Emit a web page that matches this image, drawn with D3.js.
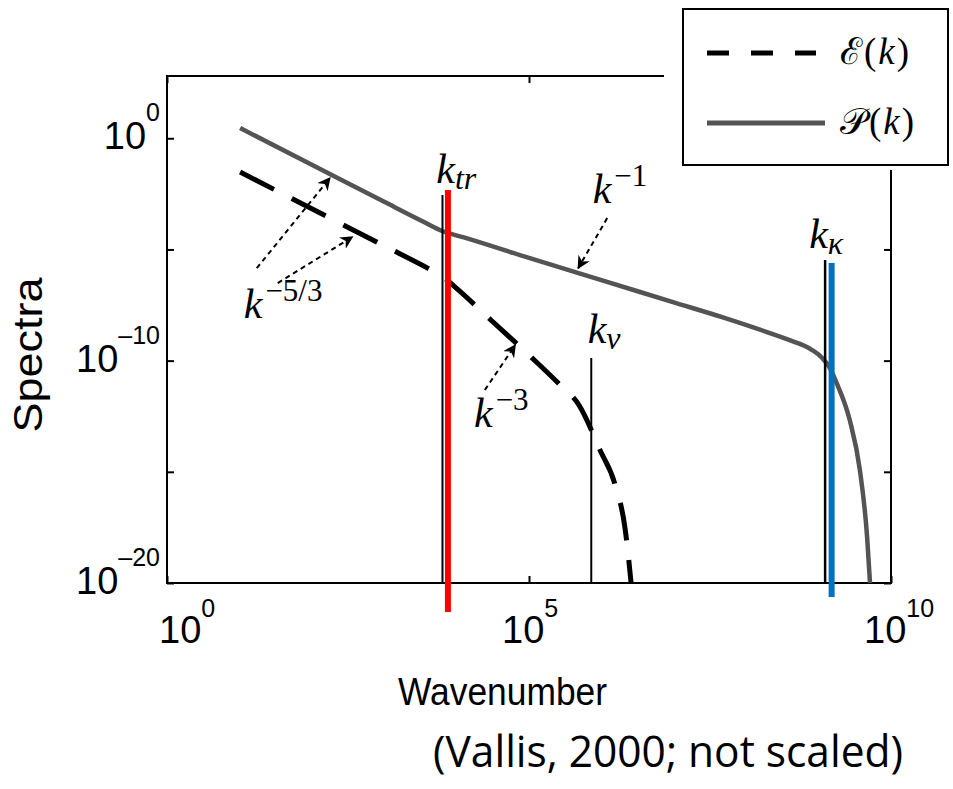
<!DOCTYPE html>
<html>
<head>
<meta charset="utf-8">
<script src="https://cdn.jsdelivr.net/npm/d3@7"></script>
<style>
  body { margin: 0; background: #fff; }
  svg { display: block; }
</style>
</head>
<body>
<svg id="chart"></svg>
<script>
// spectra, stored as log10 values
var pLogK = [1.01, 2.0, 3.0, 3.55, 3.80, 4.1, 5.0, 6.0, 7.0, 7.7, 8.2, 8.6, 8.9, 9.05, 9.15, 9.25, 9.43, 9.57, 9.67, 9.71];
var pLogS = [0.46, -1.19, -2.86, -3.77, -4.17, -4.46, -5.38, -6.38, -7.38, -8.08, -8.62, -9.08, -9.5, -9.88, -10.3, -11.01, -12.67, -14.92, -17.93, -20.0];
var eLogK = [1.01, 2.0, 3.0, 3.6, 3.8, 4.0, 4.5, 5.0, 5.4, 5.70, 5.98, 6.19, 6.33, 6.41];
var eLogS = [-1.52, -3.17, -4.84, -5.84, -6.2, -6.75, -8.25, -9.75, -11.0, -12.05, -14.02, -15.59, -17.62, -20.0];

// marker lines: log10 k, top and bottom (log10 spectra)
var markerNames = ["ktr", "ktrRed", "knu", "kkappa", "kkappaBlue"];
var markerLogK = [3.805, 3.88, 5.86, 9.09, 9.18];
var markerTop = [-2.55, -2.33, -9.88, -5.48, -5.61];
var markerBottom = [-20, -21.3, -20, -20, -20.63];
var markerColor = ["#000", "#ff0000", "#000", "#000", "#0070c0"];
var markerWidth = [2, 6, 2, 2.5, 6];

// text labels (base, script, script is sub or sup) at log10 positions
var labelBase = ["k", "k", "k", "k", "k", "k"];
var labelScript = ["tr", "\u22121", "\u03bd", "\u22123", "\u22125/3", "\u03ba"];
var labelSup = [false, true, false, true, true, false];
var labelLogK = [3.72, 5.88, 5.81, 4.24, 1.06, 8.87];
var labelLogS = [-2.01, -2.91, -9.21, -12.99, -8.08, -4.94];

// dotted arrows: start and end in log10 units
var arrowFromK = [6.08, 4.39, 1.24, 1.53];
var arrowFromS = [-3.59, -11.32, -5.84, -6.51];
var arrowToK = [5.68, 4.81, 2.25, 2.56];
var arrowToS = [-5.84, -9.30, -1.79, -4.44];

var xTicks = [0, 5, 10];
var yTicks = [0, -5, -10, -15, -20];
var yTickLabels = [0, -10, -20];

var width = 953, height = 789;
var svg = d3.select("#chart").attr("width", width).attr("height", height);

var x = d3.scaleLog().domain([1, 1e10]).range([167, 891]);
var y = d3.scaleLog().domain([1e-20, Math.pow(10, 2.8)]).range([583, 76]);
var px = function(lk) { return x(Math.pow(10, lk)); };
var py = function(ls) { return y(Math.pow(10, ls)); };

var x0 = x.range()[0], x1 = x.range()[1], yb = y.range()[0], yt = y.range()[1];

// axes, ticks pointing inward
var tickLen = 7;
svg.append("g").attr("transform", "translate(0," + yb + ")")
  .call(d3.axisBottom(x).tickValues(xTicks.map(function(d){ return Math.pow(10, d); })).tickSize(-tickLen).tickFormat(""));
svg.append("g").attr("transform", "translate(0," + yt + ")")
  .call(d3.axisTop(x).tickValues(xTicks.map(function(d){ return Math.pow(10, d); })).tickSize(-tickLen).tickFormat(""));
svg.append("g").attr("transform", "translate(" + x0 + ",0)")
  .call(d3.axisLeft(y).tickValues(yTicks.map(function(d){ return Math.pow(10, d); })).tickSize(-tickLen).tickFormat(""));
svg.append("g").attr("transform", "translate(" + x1 + ",0)")
  .call(d3.axisRight(y).tickValues(yTicks.map(function(d){ return Math.pow(10, d); })).tickSize(-tickLen).tickFormat(""));
svg.selectAll(".domain").remove();
svg.selectAll(".tick line").attr("stroke", "#000").attr("stroke-width", 2);
svg.append("rect").attr("x", x0).attr("y", yt).attr("width", x1 - x0).attr("height", yb - yt)
  .attr("fill", "none").attr("stroke", "#000").attr("stroke-width", 2);

// tick labels 10^n
var sans = "'Liberation Sans', Arial, Helvetica, sans-serif";
yTickLabels.forEach(function(t) {
  var tx = svg.append("text").attr("x", 160).attr("y", py(t) + 11)
    .attr("text-anchor", "end").attr("font-family", sans).attr("font-size", 38).text("10");
  tx.append("tspan").attr("dy", -28).attr("font-size", 25).text(t === 0 ? "0" : "\u2013" + (-t));
});
xTicks.forEach(function(t) {
  var tx = svg.append("text").attr("x", Math.max(159, px(t) - 27)).attr("y", 643)
    .attr("font-family", sans).attr("font-size", 38).text("10");
  tx.append("tspan").attr("dy", -26).attr("font-size", 25).text(String(t));
});

svg.append("text").attr("x", 398).attr("y", 705).attr("font-family", sans).attr("font-size", 38)
  .attr("textLength", 209).attr("lengthAdjust", "spacingAndGlyphs").text("Wavenumber");
svg.append("text").attr("transform", "translate(42,355) rotate(-90)").attr("text-anchor", "middle")
  .attr("font-family", sans).attr("font-size", 41)
  .attr("textLength", 155).attr("lengthAdjust", "spacingAndGlyphs").text("Spectra");

// curves
var line = d3.line().curve(d3.curveMonotoneX)
  .x(function(d) { return px(d[0]); }).y(function(d) { return py(d[1]); });
svg.append("path").datum(d3.zip(pLogK, pLogS)).attr("d", line)
  .attr("fill", "none").attr("stroke", "#545454").attr("stroke-width", 4.5);
svg.append("path").datum(d3.zip(eLogK, eLogS)).attr("d", line)
  .attr("fill", "none").attr("stroke", "#000").attr("stroke-width", 5)
  .attr("stroke-dasharray", "38,20");

// arrows
svg.append("defs").append("marker").attr("id", "head")
  .attr("viewBox", "0 0 10 10").attr("refX", 9).attr("refY", 5)
  .attr("markerWidth", 13).attr("markerHeight", 13).attr("markerUnits", "userSpaceOnUse")
  .attr("orient", "auto")
  .append("path").attr("d", "M0,0 L10,5 L0,10 L3,5 Z").attr("fill", "#000");
arrowFromK.forEach(function(d, i) {
  svg.append("line")
    .attr("x1", px(d)).attr("y1", py(arrowFromS[i]))
    .attr("x2", px(arrowToK[i])).attr("y2", py(arrowToS[i]))
    .attr("stroke", "#000").attr("stroke-width", 2).attr("stroke-dasharray", "5,4")
    .attr("marker-end", "url(#head)");
});

// marker lines
markerNames.forEach(function(n, i) {
  svg.append("line").attr("class", n)
    .attr("x1", px(markerLogK[i])).attr("x2", px(markerLogK[i]))
    .attr("y1", py(markerTop[i])).attr("y2", py(markerBottom[i]))
    .attr("stroke", markerColor[i]).attr("stroke-width", markerWidth[i]);
});

// k labels
var serif = "'Liberation Serif', 'Times New Roman', serif";
labelBase.forEach(function(b, i) {
  var t = svg.append("text").attr("x", px(labelLogK[i])).attr("y", py(labelLogS[i]))
    .attr("font-family", serif).attr("font-style", "italic").attr("font-size", 42).text(b);
  var s = t.append("tspan").text(labelScript[i]);
  if (labelSup[i]) s.attr("dy", -17).attr("font-style", "normal").attr("dx", 3).attr("font-size", 31);
  else s.attr("dy", 6).attr("font-size", 32);
});

// legend
var legend = svg.append("g");
legend.append("rect").attr("x", 664).attr("y", 0).attr("width", 289).attr("height", 170).attr("fill", "#fff");
legend.append("rect").attr("x", 683).attr("y", 9).attr("width", 265).attr("height", 156)
  .attr("fill", "#fff").attr("stroke", "#000").attr("stroke-width", 2);
legend.append("line").attr("x1", 707).attr("x2", 816).attr("y1", 53).attr("y2", 53)
  .attr("stroke", "#000").attr("stroke-width", 5).attr("stroke-dasharray", "22,22");
legend.append("line").attr("x1", 707).attr("x2", 825).attr("y1", 123).attr("y2", 123)
  .attr("stroke", "#545454").attr("stroke-width", 5);
legend.append("text").attr("x", 840).attr("y", 64).attr("font-family", serif).attr("font-size", 37)
  .attr("letter-spacing", 2)
  .text("\u2130(").append("tspan").attr("font-style", "italic").text("k")
  .select(function() { return this.parentNode; }).append("tspan").text(")");
legend.append("text").attr("x", 840).attr("y", 134).attr("font-family", serif).attr("font-size", 37)
  .attr("letter-spacing", 2)
  .text("\ud835\udcab(").append("tspan").attr("font-style", "italic").text("k")
  .select(function() { return this.parentNode; }).append("tspan").text(")");

// caption
svg.append("text").attr("x", 433).attr("y", 767).attr("font-family", "'Open Sans', 'Noto Sans', sans-serif")
  .attr("font-size", 44).attr("textLength", 470).attr("lengthAdjust", "spacingAndGlyphs")
  .text("(Vallis, 2000; not scaled)");
</script>
</body>
</html>
